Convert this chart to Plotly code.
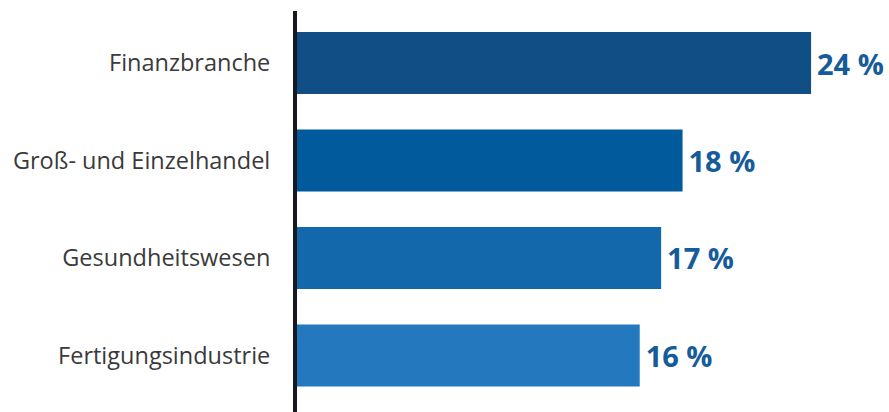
import plotly.graph_objects as go

categories = ["Finanzbranche", "Groß- und Einzelhandel", "Gesundheitswesen", "Fertigungsindustrie"]
values = [24, 18, 17, 16]
labels = ["24 %", "18 %", "17 %", "16 %"]
colors = ["#124e86", "#015a9c", "#1268ab", "#2479be"]

W, H = 889, 412
ml, mt = 297, 11
plot_w = W - ml
px_per_unit = 21.42
x_max = plot_w / px_per_unit

# y scale: 97.5 px per category, first center at y=63
py_unit = 97.5
y_top = 0 - (63 - mt) / py_unit
y_bot = 3 + (H - 355.5) / py_unit

fig = go.Figure(go.Bar(
    y=categories, x=values, orientation="h",
    marker=dict(color=colors, line=dict(width=0)),
    text=["\u200a" + t for t in labels], textposition="outside",
    textfont=dict(family="Open Sans", size=29, color="#165c9a", weight="bold"),
    cliponaxis=False,
))
fig.update_layout(
    width=W, height=H,
    margin=dict(l=ml, r=0, t=mt, b=0),
    paper_bgcolor="white", plot_bgcolor="white",
    bargap=0.364,
    showlegend=False,
    xaxis=dict(range=[0, x_max], visible=False, fixedrange=True),
    yaxis=dict(
        range=[y_bot, y_top], showgrid=False, zeroline=False,
        showline=True, linewidth=4, linecolor="#17171f",
        ticks="", ticklabelstandoff=18,
        tickfont=dict(family="Open Sans", size=23.5, color="#3a3a3a"),
    ),
)
fig.write_html("out.html")
